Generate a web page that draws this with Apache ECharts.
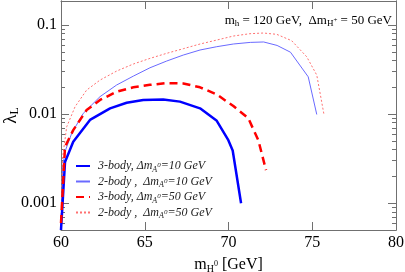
<!DOCTYPE html>
<html><head><meta charset="utf-8">
<script src="https://cdn.jsdelivr.net/npm/echarts@6/dist/echarts.min.js"></script>
<style>html,body{margin:0;padding:0;background:#fff}#c{width:405px;height:272px}</style>
</head><body><div id="c"></div>
<script>
// ---- data ----
const xTicks = [60, 65, 70, 75, 80];
const yMajorTicks = [0.001, 0.01, 0.1];
const yMinorTicks = [0.0006,0.0007,0.0008,0.0009,0.002,0.003,0.004,0.005,0.006,0.007,0.008,0.009,0.02,0.03,0.04,0.05,0.06,0.07,0.08,0.09];

const x3b10 = [60.0, 60.24, 60.73, 61.73, 62.93, 63.92, 64.91, 66.1, 67.1, 68.3, 69.3, 69.99, 70.25, 70.75];
const y3b10 = [0.0005, 0.0029, 0.0049, 0.0086, 0.0116, 0.0134, 0.0144, 0.0146, 0.0138, 0.0116, 0.0084, 0.0051, 0.0039, 0.001];

const x2b10 = [60.0, 60.1, 60.24, 60.64, 61.33, 62.33, 63.32, 64.32, 65.31, 66.31, 67.3, 68.3, 69.3, 70.29, 71.3, 72.1, 72.9, 73.7, 74.76, 75.27];
const y2b10 = [0.0005, 0.0025, 0.0038, 0.0061, 0.0102, 0.0157, 0.0212, 0.0267, 0.0331, 0.0394, 0.046, 0.0524, 0.0571, 0.0612, 0.0638, 0.0645, 0.059, 0.0495, 0.0262, 0.0099];

const x3b50 = [60.0, 60.24, 60.73, 61.53, 62.33, 63.32, 64.32, 65.31, 66.31, 67.3, 68.3, 69.3, 70.29, 71.18, 71.78, 72.24];
const y3b50 = [0.0006, 0.0043, 0.0066, 0.0111, 0.0144, 0.0178, 0.02, 0.0213, 0.0223, 0.0221, 0.02, 0.0166, 0.0123, 0.009, 0.0051, 0.00235];

const x2b50 = [60.0, 60.1, 60.34, 60.84, 61.53, 62.33, 63.32, 64.32, 65.31, 66.31, 67.3, 68.3, 69.3, 70.29, 71.28, 72.08, 72.88, 73.77, 74.67, 75.27, 75.7];
const y2b50 = [0.0006, 0.0033, 0.0072, 0.0121, 0.0186, 0.0241, 0.0304, 0.0365, 0.0422, 0.0481, 0.0542, 0.0612, 0.0678, 0.0752, 0.0799, 0.0813, 0.0786, 0.0667, 0.044, 0.0274, 0.0099];

const seriesNames = ['3b10', '2b10', '3b50', '2b50'];
const legendRich = [
  '{i|3-body, Δm}{s|A}{o|0}{i|=10 GeV}',
  '{i|2-body ,  Δm}{s|A}{o|0}{i|=10 GeV}',
  '{i|3-body, Δm}{s|A}{o|0}{i|=50 GeV}',
  '{i|2-body ,  Δm}{s|A}{o|0}{i|=50 GeV}'
];

const zip = (xs, ys) => xs.map((x, i) => [x, ys[i]]);
const SERIF = 'Liberation Serif';
const frameColor = '#707070';

const chart = echarts.init(document.getElementById('c'), null, {renderer: 'canvas'});

const yCommon = {type: 'log', logBase: 10, min: 0.0005, max: 0.186, splitLine: {show: false},
  axisLine: {show: true, lineStyle: {color: frameColor, width: 1}}};

chart.setOption({
  animation: false,
  grid: {left: 61, right: 9, top: 1, bottom: 42, show: false, containLabel: false, outerBoundsMode: 'none'},
  xAxis: [
    {type: 'value', min: 60, max: 80, interval: 5, position: 'bottom',
     axisLine: {show: true, onZero: false, lineStyle: {color: frameColor, width: 1}},
     axisTick: {show: true, inside: true, length: 8, lineStyle: {color: frameColor}},
     axisLabel: {color: '#000', fontFamily: SERIF, fontSize: 16, margin: 5},
     splitLine: {show: false},
     name: '{a|m}{s|H}{o|0}{a| [GeV]}', nameLocation: 'middle', nameGap: 25, nameMoveOverlap: false,
     nameTextStyle: {rich: {
       a: {fontFamily: SERIF, fontSize: 16, color: '#000'},
       s: {fontFamily: SERIF, fontSize: 10, color: '#000', padding: [9, 0, 0, 0]},
       o: {fontFamily: SERIF, fontSize: 8, color: '#000', padding: [0, 0, 1, 0]}
     }}},
    {type: 'value', min: 60, max: 80, interval: 5, position: 'top',
     axisLine: {show: true, onZero: false, lineStyle: {color: frameColor, width: 1}},
     axisTick: {show: true, inside: true, length: 8, lineStyle: {color: frameColor}},
     axisLabel: {show: false}, splitLine: {show: false}}
  ],
  yAxis: [
    Object.assign({}, yCommon, {position: 'left',
      axisTick: {show: true, inside: true, length: 8, customValues: yMajorTicks, lineStyle: {color: frameColor}},
      axisLabel: {color: '#000', fontFamily: SERIF, fontSize: 16, margin: 4, customValues: yMajorTicks,
        formatter: v => String(v)},
      name: '{a|λ}{s|L}', nameLocation: 'middle', nameGap: 40, nameRotate: 90, nameMoveOverlap: false,
      nameTextStyle: {rich: {
        a: {fontFamily: SERIF, fontSize: 19, color: '#000'},
        s: {fontFamily: SERIF, fontSize: 12, color: '#000', padding: [8, 0, 0, 0]}
      }}}),
    Object.assign({}, yCommon, {position: 'left',
      axisTick: {show: true, inside: true, length: 4, customValues: yMinorTicks, lineStyle: {color: frameColor}},
      axisLabel: {show: false}}),
    Object.assign({}, yCommon, {position: 'right',
      axisTick: {show: true, inside: true, length: 8, customValues: yMajorTicks, lineStyle: {color: frameColor}},
      axisLabel: {show: false}}),
    Object.assign({}, yCommon, {position: 'right',
      axisTick: {show: true, inside: true, length: 4, customValues: yMinorTicks, lineStyle: {color: frameColor}},
      axisLabel: {show: false}})
  ],
  legend: {
    show: true, padding: 0,
    orient: 'vertical', left: 75, top: 160, itemWidth: 14, itemHeight: 8, itemGap: 2,
    data: seriesNames,
    itemStyle: {opacity: 0},
    formatter: name => legendRich[seriesNames.indexOf(name)],
    textStyle: {padding: [0, 0, 0, 3], rich: {
      i: {fontFamily: SERIF, fontStyle: 'italic', fontSize: 12, color: '#222'},
      s: {fontFamily: SERIF, fontStyle: 'italic', fontSize: 8, color: '#222', padding: [7, 0, 0, 0]},
      o: {fontFamily: SERIF, fontStyle: 'italic', fontSize: 7, color: '#222', padding: [0, 0, 1, 0]}
    }}
  },
  graphic: [{
    type: 'text', right: 13, top: 14,
    style: {
      text: '{a|m}{s|h}{a| = 120 GeV,  Δm}{s|H}{o|+}{a| = 50 GeV}',
      rich: {
        a: {fontFamily: SERIF, fontSize: 13, fill: '#000'},
        s: {fontFamily: SERIF, fontSize: 9, fill: '#000', padding: [7, 0, 0, 0]},
        o: {fontFamily: SERIF, fontSize: 7, fill: '#000', padding: [0, 0, 0, 0]}
      }
    }
  }],
  series: [
    {name: seriesNames[0], type: 'line', data: zip(x3b10, y3b10), showSymbol: false, symbol: 'none',
     lineStyle: {color: '#0000ff', width: 2.5}, itemStyle: {color: '#0000ff'}, z: 4},
    {name: seriesNames[1], type: 'line', data: zip(x2b10, y2b10), showSymbol: false, symbol: 'none',
     lineStyle: {color: '#6a6aff', width: 1}, itemStyle: {color: '#6a6aff'}, z: 3},
    {name: seriesNames[2], type: 'line', data: zip(x3b50, y3b50), showSymbol: false, symbol: 'none',
     lineStyle: {color: '#ff0000', width: 2.5, type: [8, 5]}, itemStyle: {color: '#ff0000'}, z: 4},
    {name: seriesNames[3], type: 'line', data: zip(x2b50, y2b50), showSymbol: false, symbol: 'none',
     lineStyle: {color: '#ff7070', width: 1, type: [2, 2]}, itemStyle: {color: '#ff7070'}, z: 3}
  ]
});
</script></body></html>
